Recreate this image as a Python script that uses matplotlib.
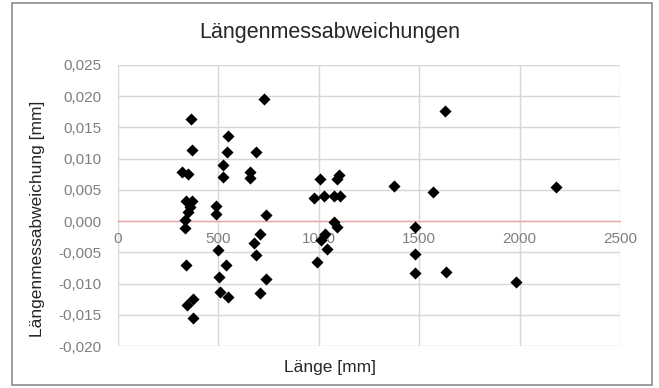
import matplotlib
matplotlib.use('Agg')
import matplotlib.pyplot as plt
from matplotlib.ticker import FuncFormatter, MultipleLocator
from matplotlib.patches import Rectangle

# ==================== Daten ====================
laenge = [363, 368, 318, 348, 340, 368, 360, 348, 335, 335,
          340, 343, 376, 376,
          488, 488, 501, 539, 503, 509, 551, 547, 542, 526, 526,
          687, 658, 658, 728, 737, 710, 680, 690, 738, 708,
          1005, 1100, 1090, 978, 1027, 1075, 1105, 1075, 1094, 1030,
          1040, 1010, 990,
          1377, 1568, 1630, 1480, 1480, 1480, 1632, 1983, 2182]
abweichung = [0.0164, 0.0114, 0.0079, 0.0075, 0.0033, 0.0033, 0.0023, 0.0015, 0.0002, -0.0011,
              -0.0070, -0.0134, -0.0125, -0.0155,
              0.0024, 0.0012, -0.0046, -0.0070, -0.0090, -0.0113, -0.0122, 0.0136, 0.0111, 0.0090, 0.0071,
              0.0110, 0.0079, 0.0069, 0.0196, 0.0009, -0.0021, -0.0035, -0.0055, -0.0093, -0.0115,
              0.0067, 0.0074, 0.0067, 0.0037, 0.0040, 0.0041, 0.0041, -0.0002, -0.0010, -0.0020,
              -0.0045, -0.0030, -0.0065,
              0.0056, 0.0047, 0.0176, -0.0009, -0.0052, -0.0083, -0.0081, -0.0097, 0.0055]

TITLE = 'Längenmessabweichungen'
XLABEL = 'Länge [mm]'
YLABEL = 'Längenmessabweichung [mm]'

plt.rcParams['font.family'] = ['Liberation Sans', 'DejaVu Sans']

fig = plt.figure(figsize=(6.59, 3.88), dpi=100)
ax = fig.add_axes([0.1786, 0.1082, 0.7622, 0.7243])

ax.scatter(laenge, abweichung, marker='D', s=38, color='black', zorder=3, linewidths=0)

ax.set_xlim(0, 2500)
ax.set_ylim(-0.020, 0.025)
ax.xaxis.set_major_locator(MultipleLocator(500))
ax.yaxis.set_major_locator(MultipleLocator(0.005))
ax.yaxis.set_major_formatter(FuncFormatter(lambda v, p: f'{v:.3f}'.replace('.', ',')))

ax.grid(True, color='#dbd6d6', linewidth=1.0, zorder=0)
for side in ['top', 'right', 'left']:
    ax.spines[side].set_visible(False)
ax.spines['bottom'].set_position(('data', 0))
ax.spines['bottom'].set_color('#e8a8a8')
ax.spines['bottom'].set_linewidth(1.0)
ax.spines['bottom'].set_zorder(2)

ax.tick_params(axis='both', length=0, labelcolor='#7f7f7f', labelsize=11)
ax.tick_params(axis='y', pad=12)
ax.tick_params(axis='x', pad=8)

fig.text(0.5, 0.915, TITLE, ha='center', va='center', fontsize=15.5, color='#262626')
fig.text(0.5, 0.052, XLABEL, ha='center', va='center', fontsize=12.5, color='#262626')
fig.text(0.057, 0.436, YLABEL, ha='center', va='center', rotation=90, fontsize=12.5, color='#262626')

fig.patches.append(Rectangle((0.018, 0.008), 0.972, 0.984, transform=fig.transFigure,
                             fill=False, edgecolor='#8c8c8c', linewidth=1.2))

fig.savefig('out.png', dpi=100)
